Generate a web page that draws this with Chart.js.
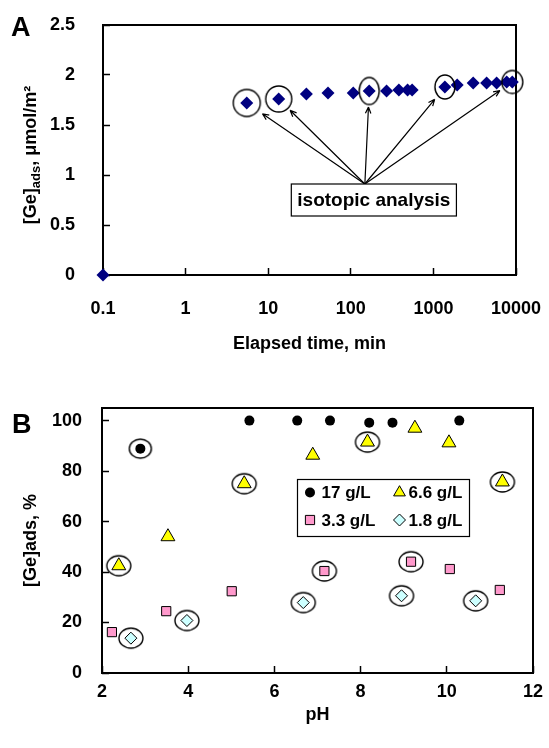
<!DOCTYPE html>
<html>
<head>
<meta charset="utf-8">
<script src="https://cdn.jsdelivr.net/npm/chart.js@4.4.0/dist/chart.umd.min.js"></script>
<style>
  html, body { margin: 0; padding: 0; background: #fff; }
  #wrap  { position: relative; width: 549px; height: 748px; }
  #wrapA { position: absolute; left: 0; top: 0; }
  #wrapB { position: absolute; left: 0; top: 370px; }
</style>
</head>
<body>
<div id="wrap">
  <div id="wrapA"><canvas id="chartA" width="549" height="370"></canvas></div>
  <div id="wrapB"><canvas id="chartB" width="549" height="378"></canvas></div>
</div>
<script>
/* ------------------------------------------------------------------ */
/* DATA                                                                */
/* ------------------------------------------------------------------ */

    // panel A - uptake vs time
    var timeA   = [0.1, 5.5, 13.4, 29, 53, 107, 167, 271, 382, 487, 553, 1377, 1941, 3034, 4406, 5830, 7710, 9016];
    var geA     = [0, 1.72, 1.76, 1.81, 1.82, 1.82, 1.84, 1.84, 1.85, 1.85, 1.85, 1.88, 1.90, 1.92, 1.92, 1.92, 1.93, 1.93];
    var isoA    = [1, 2, 6, 11, 17];           // circled samples (isotopic analysis)
    var xTicksA = [0.1, 1, 10, 100, 1000, 10000];

    // panel B - uptake vs pH for 4 solid loadings
    var labelsB = ['17 g/L', '6.6 g/L', '3.3 g/L', '1.8 g/L'];
    var ph17 = [2.89, 5.42, 6.53, 7.29, 8.20, 8.74, 10.29];
    var ge17 = [88.9, 100, 100, 100, 99.2, 99.2, 100];
    var ph66 = [2.39, 3.53, 5.30, 6.89, 8.16, 9.26, 10.05, 11.29];
    var ge66 = [42.5, 54, 75, 86.3, 91.5, 97, 91.2, 75.7];
    var ph33 = [2.23, 3.49, 5.01, 7.16, 9.17, 10.07, 11.23];
    var ge33 = [16.2, 24.5, 32.4, 40.4, 44.1, 41.2, 32.9];
    var ph18 = [2.67, 3.97, 6.67, 8.95, 10.67];
    var ge18 = [13.8, 20.8, 27.9, 30.6, 28.6];
    var iso17 = [0];
    var iso66 = [0, 2, 4, 7];
    var iso33 = [3, 4];
    var iso18 = [0, 1, 2, 3, 4];
    var yTicksB = [0, 20, 40, 60, 80, 100];

/* ------------------------------------------------------------------ */
/* HELPERS                                                             */
/* ------------------------------------------------------------------ */

    var FONT = '"Liberation Sans", Arial, sans-serif';
    Chart.defaults.font.family = FONT;
    Chart.defaults.font.weight = 'bold';
    Chart.defaults.color = '#000';

    function pts(xs, ys) {
        return xs.map(function(x, i){ return { x: x, y: ys[i] }; });
    }

    // open ellipse used as a point style for the circled samples
    function ring(w, h) {
        var c = document.createElement('canvas');
        c.width = w + 4; c.height = h + 4;
        var g = c.getContext('2d');
        g.strokeStyle = '#000'; g.lineWidth = 1.4;
        g.beginPath();
        g.ellipse(c.width / 2, c.height / 2, w / 2, h / 2, 0, 0, Math.PI * 2);
        g.stroke();
        return c;
    }

    // fixed axis box, no extra room asked for the edge labels
    function fixSize(w, h) {
        return function(s) {
            if (w) s.width = w;
            if (h) s.height = h;
            s.paddingLeft = s.paddingRight = s.paddingTop = s.paddingBottom = 0;
        };
    }

    var frame = {
        id: 'frame',
        beforeDatasetsDraw: function(chart) {
            var a = chart.chartArea, ctx = chart.ctx;
            ctx.save();
            ctx.strokeStyle = '#000'; ctx.lineWidth = 2;
            ctx.strokeRect(a.left, a.top, a.right - a.left, a.bottom - a.top);
            ctx.restore();
        }
    };

    function letter(txt, x, y) {
        return {
            id: 'letter' + txt,
            afterDraw: function(chart) {
                var ctx = chart.ctx;
                ctx.save();
                ctx.font = 'bold 27px ' + FONT;
                ctx.fillStyle = '#000'; ctx.textBaseline = 'alphabetic'; ctx.textAlign = 'left';
                ctx.fillText(txt, x, y);
                ctx.restore();
            }
        };
    }

    function axisCommon() {
        return {
            grid:   { display: true, drawOnChartArea: false, drawTicks: true, tickLength: -7, tickWidth: 1.5, tickColor: '#000' },
            border: { display: false },
            ticks:  { font: { size: 18, weight: 'bold' }, color: '#000', autoSkip: false, maxRotation: 0 }
        };
    }

/* ------------------------------------------------------------------ */
/* CHART A                                                             */
/* ------------------------------------------------------------------ */

    var noteA = { x: 148, y: 0.91, dx: 9, text: 'isotopic analysis', gap: [19, 16, 16, 16, 15] };
    var ringsA = [ring(27, 27), ring(26, 26), ring(20, 27), ring(20, 24), ring(21, 23)];

    var isoNote = {
        id: 'isoNote',
        afterDatasetsDraw: function(chart) {
            var xs = chart.scales.x, ys = chart.scales.y, ctx = chart.ctx;
            var ax = xs.getPixelForValue(noteA.x), ay = ys.getPixelForValue(noteA.y);
            ctx.save();
            ctx.strokeStyle = '#000'; ctx.lineWidth = 1.2;
            isoA.forEach(function(idx, k){
                var px = xs.getPixelForValue(timeA[idx]), py = ys.getPixelForValue(geA[idx]);
                var dx = ax - px, dy = ay - py, len = Math.sqrt(dx * dx + dy * dy);
                dx /= len; dy /= len;
                var tx = px + dx * noteA.gap[k], ty = py + dy * noteA.gap[k];
                var ang = Math.atan2(dy, dx);
                ctx.beginPath();
                ctx.moveTo(ax, ay); ctx.lineTo(tx, ty);
                ctx.moveTo(tx, ty); ctx.lineTo(tx + 7 * Math.cos(ang + 0.4), ty + 7 * Math.sin(ang + 0.4));
                ctx.moveTo(tx, ty); ctx.lineTo(tx + 7 * Math.cos(ang - 0.4), ty + 7 * Math.sin(ang - 0.4));
                ctx.stroke();
            });
            ctx.font = 'bold 19px ' + FONT;
            var bw = ctx.measureText(noteA.text).width + 12, bh = 32;
            var bx = ax + noteA.dx - bw / 2;
            ctx.fillStyle = '#fff'; ctx.fillRect(bx, ay, bw, bh);
            ctx.strokeRect(bx, ay, bw, bh);
            ctx.fillStyle = '#000'; ctx.textAlign = 'center'; ctx.textBaseline = 'middle';
            ctx.fillText(noteA.text, bx + bw / 2, ay + bh / 2 + 1);
            ctx.restore();
        }
    };

    // y title with the "ads" subscript
    var yTitleA = {
        id: 'yTitleA',
        afterDraw: function(chart) {
            var ctx = chart.ctx;
            var parts = [['[Ge]', 18, 0], ['ads', 13, 4], [', \u03bcmol/m\u00b2', 18, 0]];
            ctx.save();
            ctx.translate(29, 155);
            ctx.rotate(-Math.PI / 2);
            var total = 0;
            parts.forEach(function(p){ ctx.font = 'bold ' + p[1] + 'px ' + FONT; total += ctx.measureText(p[0]).width; });
            var x = -total / 2;
            ctx.fillStyle = '#000'; ctx.textBaseline = 'alphabetic'; ctx.textAlign = 'left';
            parts.forEach(function(p){
                ctx.font = 'bold ' + p[1] + 'px ' + FONT;
                ctx.fillText(p[0], x, 6.5 + p[2]);
                x += ctx.measureText(p[0]).width;
            });
            ctx.restore();
        }
    };

    var xA = axisCommon();
    xA.type = 'logarithmic'; xA.min = 0.1; xA.max = 10000;
    xA.afterBuildTicks = function(s){ s.ticks = xTicksA.map(function(v){ return { value: v }; }); };
    xA.afterFit = fixSize(0, 95);
    xA.ticks.padding = 30;
    xA.ticks.callback = function(v){ return String(v); };
    xA.title = { display: true, text: 'Elapsed time, min', font: { size: 18, weight: 'bold' }, padding: { top: 0, bottom: 15 } };

    var yA = axisCommon();
    yA.min = 0; yA.max = 2.5;
    yA.ticks.stepSize = 0.5; yA.ticks.padding = 35;
    yA.ticks.callback = function(v){ return String(+v.toFixed(1)); };
    yA.afterFit = fixSize(103, 0);

    new Chart(document.getElementById('chartA'), {
        type: 'scatter',
        data: {
            datasets: [{
                data: pts(isoA.map(function(i){ return timeA[i]; }), isoA.map(function(i){ return geA[i]; })),
                pointStyle: ringsA, pointRadius: 1, clip: false
            }, {
                data: pts(timeA, geA),
                pointStyle: 'rectRot', pointRadius: 6.5, borderWidth: 0,
                backgroundColor: '#000080', borderColor: '#000080', clip: false
            }]
        },
        options: {
            responsive: false, animation: false, events: [],
            layout: { padding: { left: 0, top: 25, right: 33, bottom: 0 } },
            plugins: { legend: { display: false }, tooltip: { enabled: false } },
            scales: { x: xA, y: yA }
        },
        plugins: [frame, isoNote, yTitleA, letter('A', 11, 36)]
    });

/* ------------------------------------------------------------------ */
/* CHART B                                                             */
/* ------------------------------------------------------------------ */

    var legendB = { x: 6.53, y: 76.8, w: 172, h: 57 };

    var boxLegend = {
        id: 'boxLegend',
        afterDatasetsDraw: function(chart) {
            var xs = chart.scales.x, ys = chart.scales.y, ctx = chart.ctx;
            var lx = Math.round(xs.getPixelForValue(legendB.x)) + 0.5, ly = Math.round(ys.getPixelForValue(legendB.y)) + 0.5;
            ctx.save();
            ctx.fillStyle = '#fff'; ctx.fillRect(lx, ly, legendB.w, legendB.h);
            ctx.strokeStyle = '#000'; ctx.lineWidth = 1.2;
            ctx.strokeRect(lx, ly, legendB.w, legendB.h);
            ctx.font = 'bold 17px ' + FONT; ctx.textBaseline = 'middle'; ctx.textAlign = 'left';
            for (var i = 0; i < 4; i++) {
                var ds = chart.data.datasets[i];
                var mx = lx + (i % 2 ? 102 : 12.5), tx = lx + (i % 2 ? 111 : 24);
                var my = ly + (i < 2 ? 13 : 40.5);
                ctx.fillStyle = ds.backgroundColor; ctx.strokeStyle = ds.borderColor; ctx.lineWidth = ds.borderWidth;
                Chart.helpers.drawPoint(ctx, { pointStyle: ds.pointStyle, radius: ds.pointRadius * (i === 1 ? 0.85 : 1), rotation: 0, borderWidth: ds.borderWidth }, mx, my);
                ctx.fillStyle = '#000';
                ctx.fillText(ds.label, tx, my + 1);
            }
            ctx.restore();
        }
    };

    var ringB = ring(24, 20), ringDot = ring(22, 19);
    var ringDataB = [], ringStyleB = [];
    [[ph17, ge17, iso17], [ph66, ge66, iso66], [ph33, ge33, iso33], [ph18, ge18, iso18]].forEach(function(s, k){
        s[2].forEach(function(i){
            ringDataB.push({ x: s[0][i], y: s[1][i] });
            ringStyleB.push(k === 0 ? ringDot : ringB);
        });
    });

    var xB = axisCommon();
    xB.min = 2; xB.max = 12;
    xB.ticks.stepSize = 2; xB.ticks.padding = 15;
    xB.afterFit = fixSize(0, 75);
    xB.title = { display: true, text: 'pH', font: { size: 18, weight: 'bold' }, padding: { top: 0, bottom: 22 } };

    var yB = axisCommon();
    yB.min = 0; yB.max = 105;
    yB.ticks.padding = 27;
    yB.afterBuildTicks = function(s){ s.ticks = yTicksB.map(function(v){ return { value: v }; }); };
    yB.afterFit = fixSize(102, 0);
    yB.title = { display: true, text: '[Ge]ads, %', font: { size: 18, weight: 'bold' }, padding: { top: 20, bottom: 0 } };

    new Chart(document.getElementById('chartB'), {
        type: 'scatter',
        data: {
            datasets: [{
                label: labelsB[0], data: pts(ph17, ge17),
                pointStyle: 'circle', pointRadius: 5, borderWidth: 0,
                backgroundColor: '#000000', borderColor: '#000000', clip: false
            }, {
                label: labelsB[1], data: pts(ph66, ge66),
                pointStyle: 'triangle', pointRadius: 8, borderWidth: 1,
                backgroundColor: '#FFFF00', borderColor: '#000000', clip: false
            }, {
                label: labelsB[2], data: pts(ph33, ge33),
                pointStyle: 'rect', pointRadius: 6.5, borderWidth: 1,
                backgroundColor: '#FF99CC', borderColor: '#000000', clip: false
            }, {
                label: labelsB[3], data: pts(ph18, ge18),
                pointStyle: 'rectRot', pointRadius: 6, borderWidth: 1,
                backgroundColor: '#CCFFFF', borderColor: '#000000', clip: false
            }, {
                data: ringDataB, pointStyle: ringStyleB, pointRadius: 1, clip: false
            }]
        },
        options: {
            responsive: false, animation: false, events: [],
            layout: { padding: { left: 0, top: 38, right: 16, bottom: 0 } },
            plugins: { legend: { display: false }, tooltip: { enabled: false } },
            scales: { x: xB, y: yB }
        },
        plugins: [frame, boxLegend, letter('B', 12, 63)]
    });
</script>
</body>
</html>
